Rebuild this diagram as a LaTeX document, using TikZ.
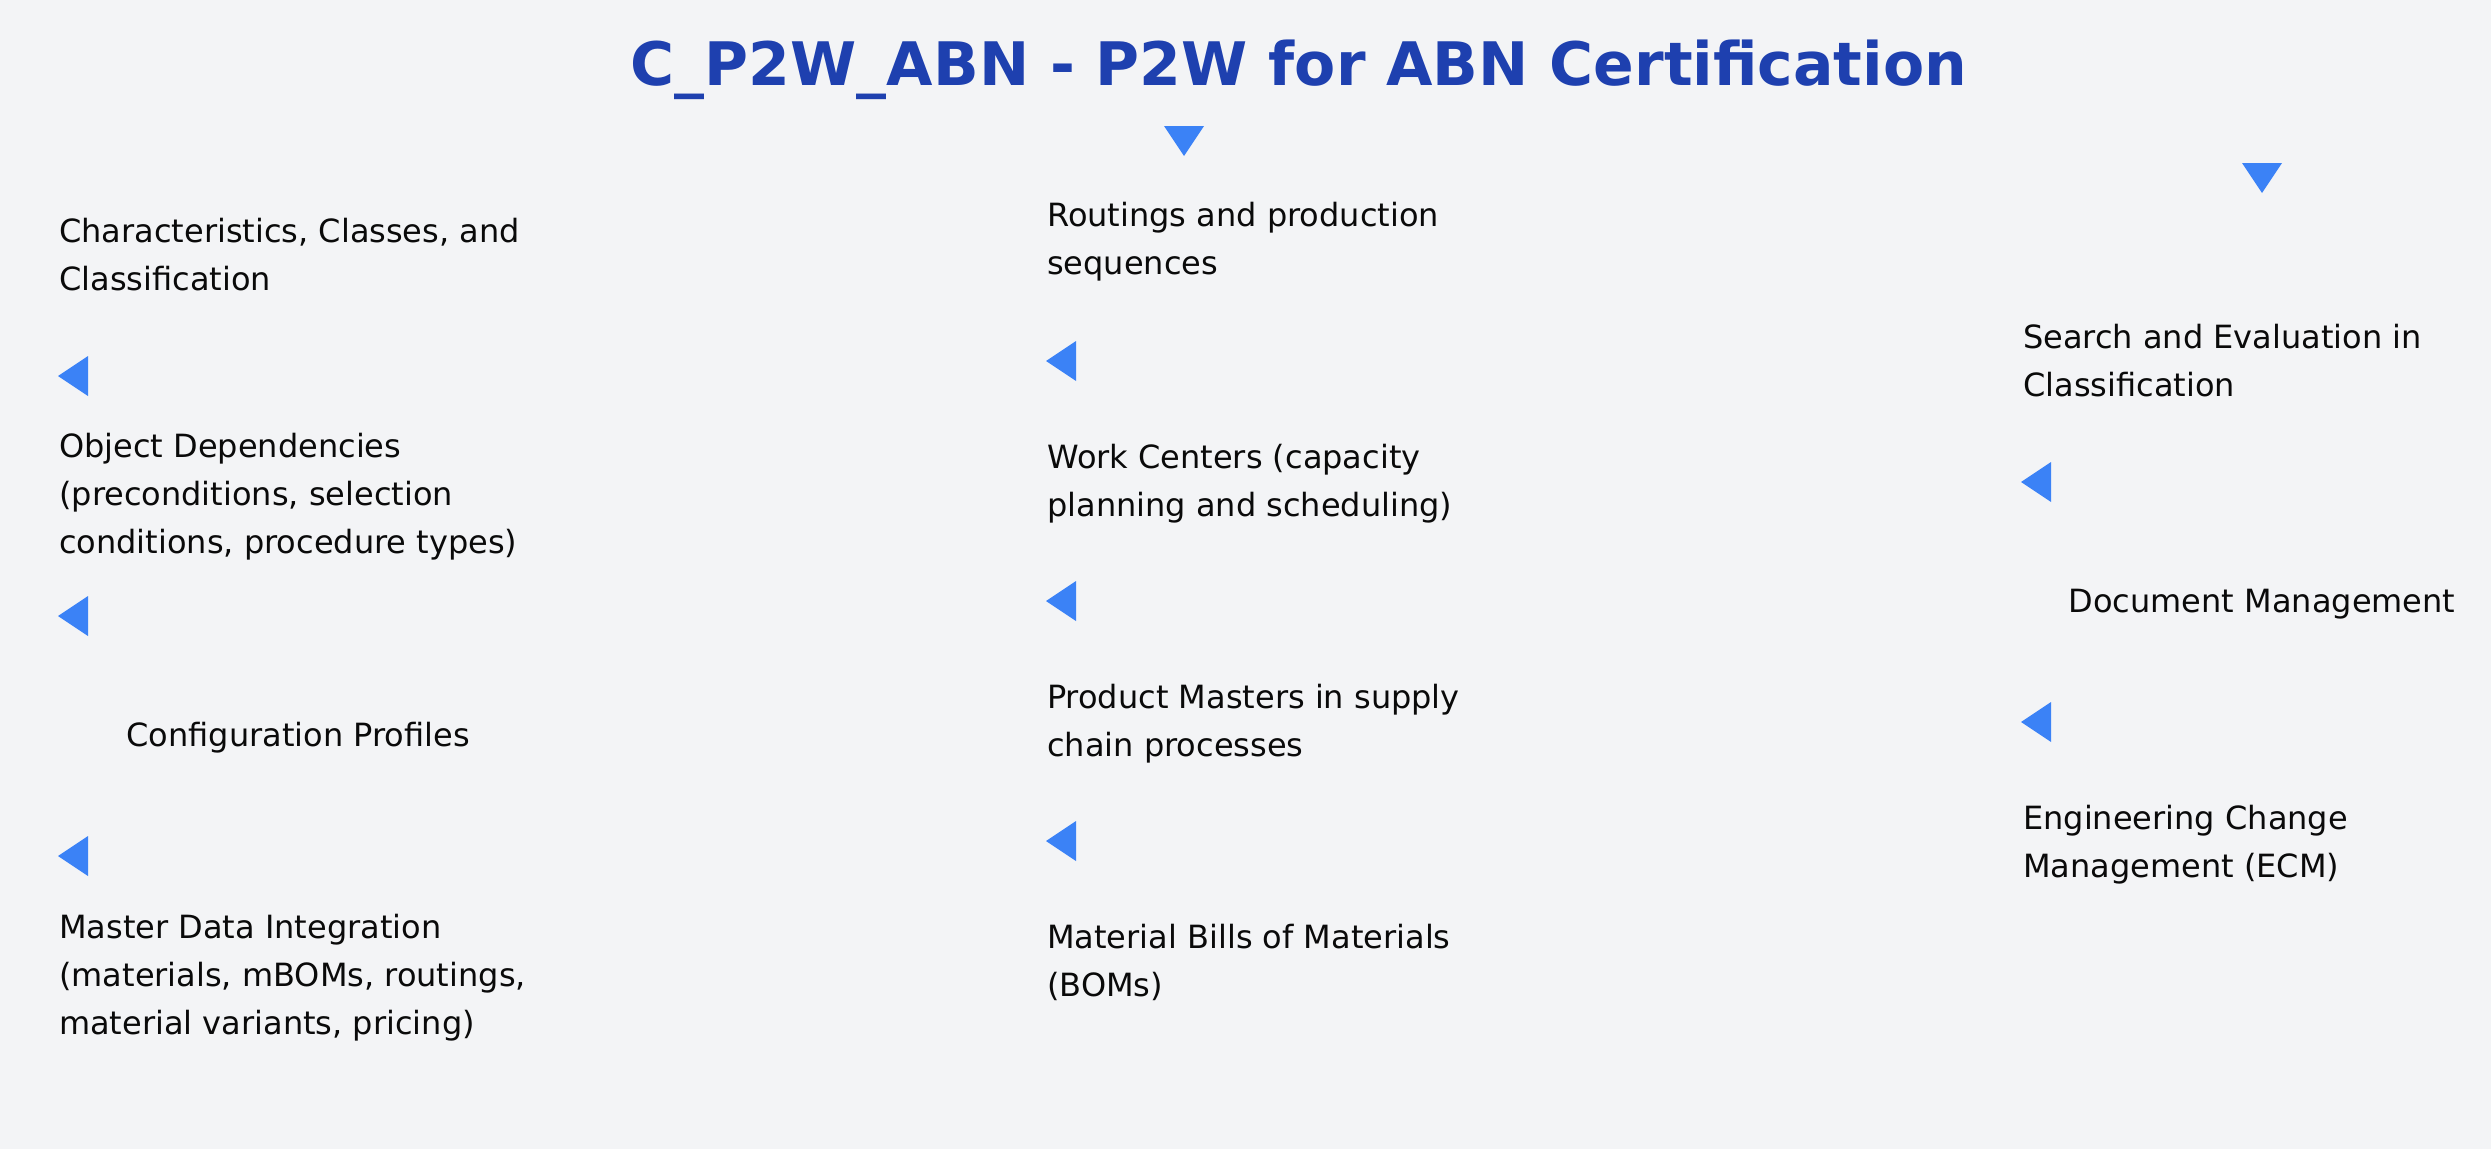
\documentclass[tikz,border=0pt]{standalone}
\usepackage{fontspec}
\setmainfont{DejaVu Sans}
\usetikzlibrary{positioning}
\definecolor{pagebg}{HTML}{F3F4F6}
\definecolor{titleblue}{HTML}{1E40AF}
\definecolor{tipblue}{HTML}{3B82F6}
\definecolor{textdark}{HTML}{0A0A0A}
\tikzset{
    heading/.style = {
        font=\fontsize{60}{72}\selectfont\bfseries,
        text=titleblue,
        inner sep=0pt,
        anchor=base
    },
    % base anchor sits on the last line
    topic/.style = {
        font=\fontsize{32}{48}\selectfont,
        text=textdark,
        inner sep=0pt,
        align=left,
        anchor=base west
    },
    topicmid/.style = {
        topic,
        align=center,
        anchor=base
    },
    tipleft/.pic = {
        \fill[tipblue] (0,0) -- (30,-20) -- (30,20) -- cycle;
    },
    tipdown/.pic = {
        \fill[tipblue] (-20,0) -- (20,0) -- (0,30) -- cycle;
    },
}

\begin{document}
\begin{tikzpicture}[x=1pt,y=-1pt]

            \fill[pagebg] (0,0) rectangle (2491,1149);
            \useasboundingbox (0,0) rectangle (2491,1149);

            \node[heading] (title) at (1299,85) {C\_P2W\_ABN - P2W for ABN Certification};

            % left column
            \node[topic] (classes) at (59,290) {Characteristics, Classes, and\\Classification};
            \pic (tip_classes) at (58,376) {tipleft};
            \node[topic] (depend) at (59,553) {Object Dependencies\\(preconditions, selection\\conditions, procedure types)};
            \pic (tip_depend) at (58,616) {tipleft};
            \node[topicmid] (profiles) at (298,746) {Configuration Profiles};
            \pic (tip_profiles) at (58,856) {tipleft};
            \node[topic] (masterdata) at (59,1034) {Master Data Integration\\(materials, mBOMs, routings,\\material variants, pricing)};

            % middle column
            \pic (tip_mid) at (1184,126) {tipdown};
            \node[topic] (routings) at (1047,274) {Routings and production\\sequences};
            \pic (tip_routings) at (1046,361) {tipleft};
            \node[topic] (workcenters) at (1047,516) {Work Centers (capacity\\planning and scheduling)};
            \pic (tip_workcenters) at (1046,601) {tipleft};
            \node[topic] (productmasters) at (1047,756) {Product Masters in supply\\chain processes};
            \pic (tip_productmasters) at (1046,841) {tipleft};
            \node[topic] (boms) at (1047,996) {Material Bills of Materials\\(BOMs)};

            % right column
            \pic (tip_right) at (2262,163) {tipdown};
            \node[topic] (search) at (2023,396) {Search and Evaluation in\\Classification};
            \pic (tip_search) at (2021,482) {tipleft};
            \node[topicmid] (documents) at (2262,612) {Document Management};
            \pic (tip_documents) at (2021,722) {tipleft};
            \node[topic] (ecm) at (2023,877) {Engineering Change\\Management (ECM)};

\end{tikzpicture}
\end{document}
